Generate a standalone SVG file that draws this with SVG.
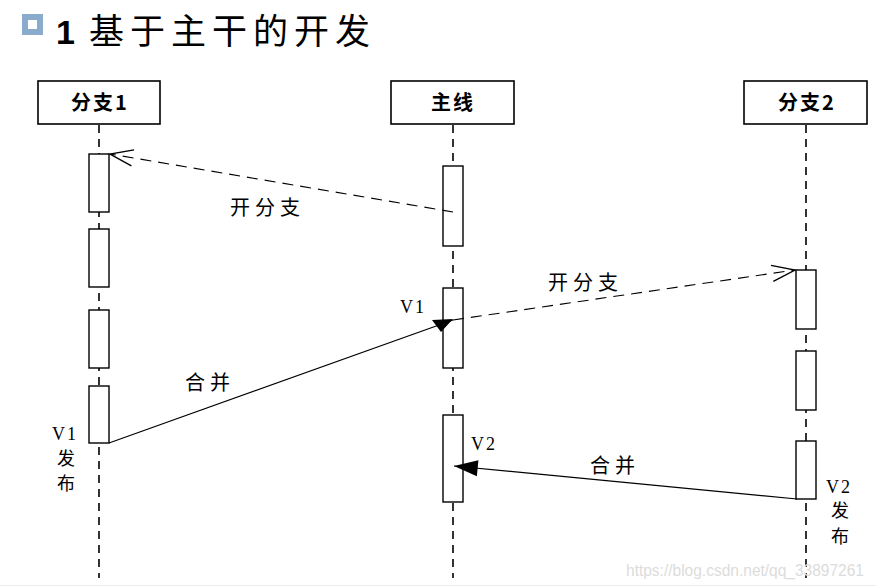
<svg xmlns="http://www.w3.org/2000/svg" width="876" height="587" viewBox="0 0 876 587">
<style>
.hdr{fill:#fff;stroke:#000;stroke-width:1.6}
.hdrt{font-family:"Noto Sans CJK SC","Liberation Sans",sans-serif;font-weight:bold;font-size:20px;text-anchor:middle;letter-spacing:2px}
.life{stroke:#000;stroke-width:1.6;stroke-dasharray:8 6}
.bar{fill:#fff;stroke:#000;stroke-width:1.4}
.dash{fill:none;stroke:#000;stroke-width:1.1;stroke-dasharray:11 7}
.solid{fill:none;stroke:#000;stroke-width:1.2}
.lbl{font-family:"Noto Sans CJK SC","Liberation Sans",sans-serif;font-size:20px;letter-spacing:5px}
.ver{font-family:"Liberation Serif","Noto Sans CJK SC",serif;font-size:18px;letter-spacing:2px}
.cj{font-family:"Noto Sans CJK SC","Liberation Serif",serif;font-size:18px;text-anchor:middle}
</style>
<defs>
<marker id="open" markerUnits="userSpaceOnUse" markerWidth="30" markerHeight="30" viewBox="-24 -12 26 24" refX="0" refY="0" orient="auto">
<path d="M -20 -7 L 0 0 L -20 7" fill="none" stroke="#000" stroke-width="1.2"/>
</marker>
<marker id="fill" markerUnits="userSpaceOnUse" markerWidth="30" markerHeight="30" viewBox="-22 -10 24 20" refX="0" refY="0" orient="auto">
<path d="M -19 -6.5 L 0 0 L -19 6.5 Z" fill="#000"/>
</marker>
</defs>
<rect width="876" height="587" fill="#fff"/>
<g id="title">
<rect x="22" y="14" width="21" height="21" fill="#8aaccc"/>
<rect x="28" y="20" width="9" height="9" fill="#fff"/>
<text x="56" y="44" font-family="Liberation Sans,sans-serif" font-weight="bold" font-size="34px">1</text>
<text x="89" y="44" font-family="Noto Sans CJK SC,sans-serif" font-size="35px" letter-spacing="6px">基于主干的开发</text>
</g>
<g id="lifelines">
<line class="life" x1="99" y1="125" x2="99" y2="578"/>
<line class="life" x1="453" y1="125" x2="453" y2="578"/>
<line class="life" x1="806" y1="125" x2="806" y2="578"/>
</g>
<g id="branch1">
<rect class="hdr" x="38" y="81" width="122" height="43"/>
<text class="hdrt" x="100" y="110">分支1</text>
<rect class="bar" x="89" y="154" width="20" height="58"/>
<rect class="bar" x="89" y="229" width="20" height="58"/>
<rect class="bar" x="89" y="310" width="20" height="58"/>
<rect class="bar" x="89" y="386" width="20" height="57"/>
</g>
<g id="trunk">
<rect class="hdr" x="391" y="81" width="123" height="43"/>
<text class="hdrt" x="453" y="110">主线</text>
<rect class="bar" x="443" y="166" width="20" height="80"/>
<rect class="bar" x="443" y="288" width="20" height="80"/>
<rect class="bar" x="443" y="415" width="20" height="87"/>
</g>
<g id="branch2">
<rect class="hdr" x="744" y="81" width="123" height="43"/>
<text class="hdrt" x="807" y="110">分支2</text>
<rect class="bar" x="796" y="270" width="20" height="59"/>
<rect class="bar" x="796" y="351" width="20" height="59"/>
<rect class="bar" x="796" y="441" width="20" height="58"/>
</g>
<g id="connectors">
<path class="dash" d="M 453 212 L 110 154" marker-end="url(#open)"/>
<path class="dash" d="M 453 320 L 795 270" marker-end="url(#open)"/>
<path class="solid" d="M 109 443 L 453 320"/>
<polygon points="432,320 453,319 441,332" fill="#000"/>
<path class="solid" d="M 797 499 L 454 466" marker-end="url(#fill)"/>
</g>
<g id="labels">
<text class="lbl" x="230" y="215">开分支</text>
<text class="lbl" x="548" y="290">开分支</text>
<text class="lbl" x="185" y="390">合并</text>
<text class="lbl" x="590" y="473">合并</text>
<text class="ver" x="400" y="313">V1</text>
<text class="ver" x="471" y="450">V2</text>
<text class="ver" x="52" y="440">V1</text>
<text class="cj" x="66" y="465">发</text>
<text class="cj" x="66" y="490">布</text>
<text class="ver" x="826" y="493">V2</text>
<text class="cj" x="840" y="517">发</text>
<text class="cj" x="840" y="543">布</text>
</g>
<text x="626" y="576" font-family="Liberation Sans,sans-serif" font-size="16px" fill="#dcdcdc" textLength="238" lengthAdjust="spacingAndGlyphs">https://blog.csdn.net/qq_33897261</text>
<line x1="0" y1="585.5" x2="876" y2="585.5" stroke="#ececec" stroke-width="1"/>
</svg>
